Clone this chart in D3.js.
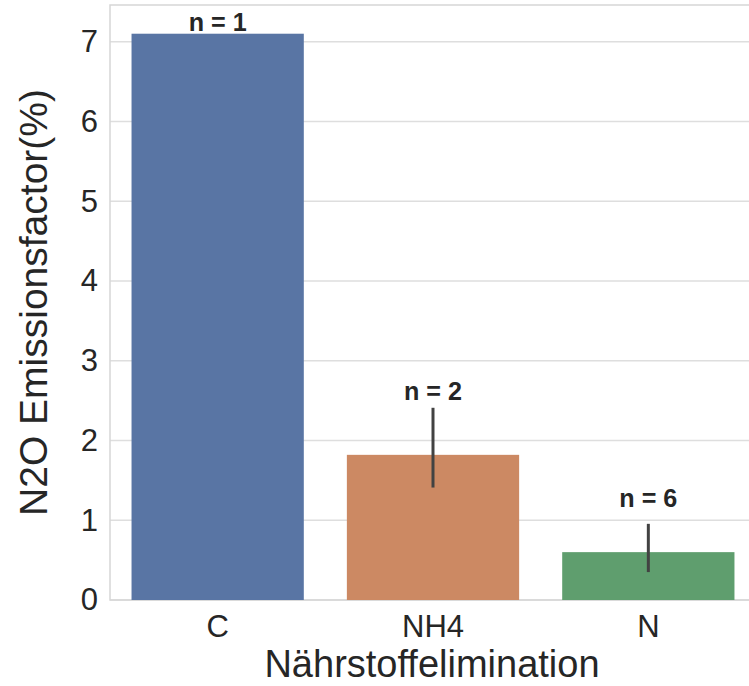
<!DOCTYPE html>
<html>
<head>
<meta charset="utf-8">
<script src="https://cdn.jsdelivr.net/npm/d3@7"></script>
<style>
  html, body { margin: 0; padding: 0; background: #fff; }
  svg { display: block; font-family: "Liberation Sans", Arial, sans-serif; }
</style>
</head>
<body>
<svg id="chart" width="749" height="686"></svg>
<script>
// Mean N2O emission factor per nutrient-removal type, with CI bounds and sample counts
const categories = ["C", "NH4", "N"];
const means = [7.1, 1.82, 0.60];
const ciLow = [null, 1.41, 0.35];
const ciHigh = [null, 2.41, 0.955];
const counts = [1, 2, 6];
const labelAt = [7.13, 2.51, 1.16];
const yTicks = [0, 1, 2, 3, 4, 5, 6, 7];
const colors = ["#5975a4", "#cc8963", "#5f9e6e"];

const svg = d3.select("#chart");
const margin = { left: 110, top: 5, bottom: 86 };
const plotRight = 756;
const H = 686;
const yMax = 7.46;

const x = d3.scaleBand()
  .domain(categories)
  .range([margin.left, plotRight])
  .paddingInner(0.2)
  .paddingOuter(0.1);

const y = d3.scaleLinear()
  .domain([0, yMax])
  .range([H - margin.bottom, margin.top]);

// grid lines
svg.append("g")
  .selectAll("line")
  .data(yTicks)
  .join("line")
  .attr("x1", margin.left).attr("x2", plotRight)
  .attr("y1", d => y(d)).attr("y2", d => y(d))
  .attr("stroke", "#dedede").attr("stroke-width", 1.5);

// frame
svg.append("rect")
  .attr("x", margin.left).attr("y", y(yMax))
  .attr("width", plotRight - margin.left)
  .attr("height", y(0) - y(yMax))
  .attr("fill", "none").attr("stroke", "#d6d6d6").attr("stroke-width", 1.5);

// bars
svg.append("g")
  .selectAll("rect")
  .data(categories)
  .join("rect")
  .attr("x", d => x(d))
  .attr("width", x.bandwidth())
  .attr("y", (d, i) => y(means[i]))
  .attr("height", (d, i) => y(0) - y(means[i]))
  .attr("fill", (d, i) => colors[i]);

// error bars
svg.append("g")
  .selectAll("line")
  .data(categories.filter((d, i) => ciLow[i] !== null))
  .join("line")
  .attr("x1", d => x(d) + x.bandwidth() / 2)
  .attr("x2", d => x(d) + x.bandwidth() / 2)
  .attr("y1", d => y(ciLow[categories.indexOf(d)]))
  .attr("y2", d => y(ciHigh[categories.indexOf(d)]))
  .attr("stroke", "#424242").attr("stroke-width", 3);

// sample count labels
svg.append("g")
  .selectAll("text")
  .data(categories)
  .join("text")
  .attr("x", d => x(d) + x.bandwidth() / 2)
  .attr("y", (d, i) => y(labelAt[i]))
  .attr("text-anchor", "middle")
  .attr("font-size", 25)
  .attr("font-weight", "bold")
  .attr("fill", "#262626")
  .attr("textLength", 58)
  .attr("lengthAdjust", "spacingAndGlyphs")
  .text((d, i) => "n = " + counts[i]);

// y axis tick labels
const yAxis = svg.append("g")
  .attr("transform", `translate(${margin.left},0)`)
  .call(d3.axisLeft(y).tickValues(yTicks).tickFormat(d3.format("d")).tickSize(0).tickPadding(12));
yAxis.select(".domain").remove();
yAxis.selectAll("text")
  .attr("font-size", 31)
  .attr("font-family", "Liberation Sans, Arial, sans-serif")
  .attr("fill", "#262626");

// x axis tick labels
const xAxis = svg.append("g")
  .attr("transform", `translate(0,${y(0)})`)
  .call(d3.axisBottom(x).tickSize(0).tickPadding(15));
xAxis.select(".domain").remove();
xAxis.selectAll("text")
  .attr("font-size", 31)
  .attr("font-family", "Liberation Sans, Arial, sans-serif")
  .attr("fill", "#262626");

// axis titles
svg.append("text")
  .attr("x", 432)
  .attr("y", 677)
  .attr("text-anchor", "middle")
  .attr("font-size", 38)
  .attr("fill", "#262626")
  .text("Nährstoffelimination");

svg.append("text")
  .attr("transform", `translate(47,${(y(0) + y(yMax)) / 2}) rotate(-90)`)
  .attr("text-anchor", "middle")
  .attr("font-size", 39)
  .attr("fill", "#262626")
  .text("N2O Emissionsfactor(%)");
</script>
</body>
</html>
